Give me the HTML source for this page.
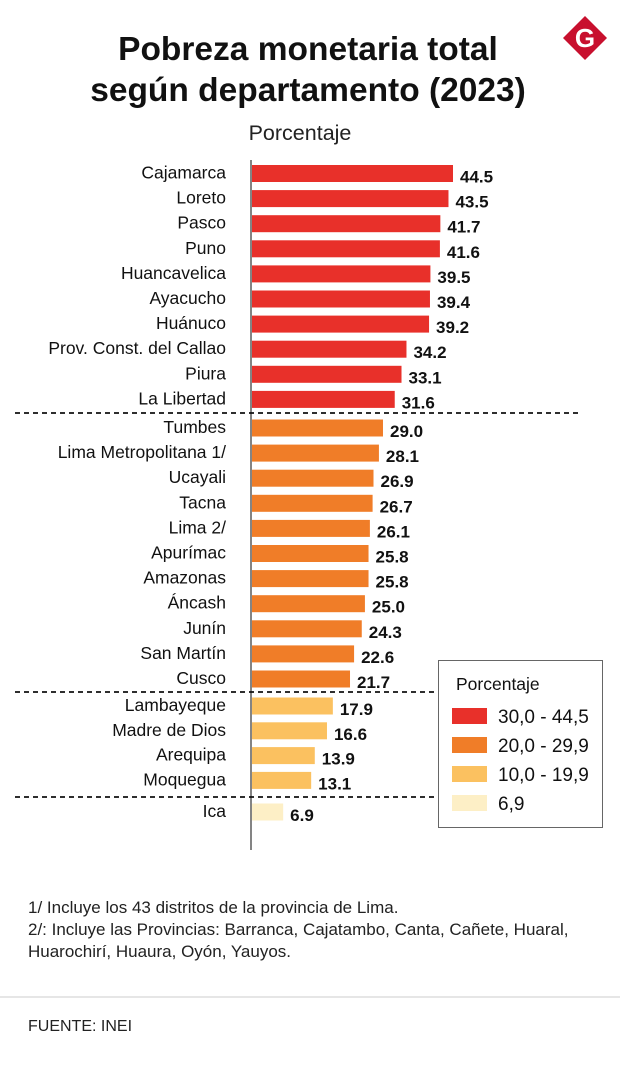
<!DOCTYPE html>
<html><head><meta charset="utf-8">
<style>
body{margin:0;background:#fff;width:620px;height:1064px;overflow:hidden;font-family:"Liberation Sans",sans-serif;}
svg text{font-family:"Liberation Sans",sans-serif;}
</style></head>
<body>
<svg id="chart" width="620" height="1064" xmlns="http://www.w3.org/2000/svg">
<text x="308" y="60" text-anchor="middle" font-size="33.5" font-weight="bold" fill="#111">Pobreza monetaria total</text>
<text x="308" y="101" text-anchor="middle" font-size="33.5" font-weight="bold" fill="#111">según departamento (2023)</text>
<g>
<polygon points="585,16 607,38 585,60 563,38" fill="#c8102e"/>
<circle cx="585" cy="38" r="11" fill="none" stroke="#fff" stroke-width="0"/>
<text x="585" y="47" text-anchor="middle" font-size="26" font-weight="bold" fill="#fff">G</text>
</g>
<text x="300" y="140" text-anchor="middle" font-size="21.5" fill="#222">Porcentaje</text>
<line x1="251" y1="160" x2="251" y2="850" stroke="#333" stroke-width="1.2"/>
<line x1="15" y1="413" x2="582" y2="413" stroke="#111" stroke-width="1.8" stroke-dasharray="5,4"/>
<line x1="15" y1="692" x2="440" y2="692" stroke="#111" stroke-width="1.8" stroke-dasharray="5,4"/>
<line x1="15" y1="797" x2="440" y2="797" stroke="#111" stroke-width="1.8" stroke-dasharray="5,4"/>
<g id="bars"></g>
<g>
<rect x="438.5" y="660.5" width="164" height="167" fill="#fff" stroke="#666" stroke-width="1"/>
<text x="456" y="690" font-size="17.5" fill="#111">Porcentaje</text>
<rect x="452" y="708" width="35" height="16" fill="#e8302a"/>
<text x="498" y="723" font-size="19" fill="#111">30,0 - 44,5</text>
<rect x="452" y="737" width="35" height="16" fill="#f07d28"/>
<text x="498" y="752" font-size="19" fill="#111">20,0 - 29,9</text>
<rect x="452" y="766" width="35" height="16" fill="#fbc160"/>
<text x="498" y="781" font-size="19" fill="#111">10,0 - 19,9</text>
<rect x="452" y="795" width="35" height="16" fill="#fdefc6"/>
<text x="498" y="810" font-size="19" fill="#111">6,9</text>
</g>
<text x="28" y="913" font-size="17" fill="#222">1/ Incluye los 43 distritos de la provincia de Lima.</text>
<text x="28" y="935" font-size="17" fill="#222">2/: Incluye las Provincias: Barranca, Cajatambo, Canta, Cañete, Huaral,</text>
<text x="28" y="957" font-size="17" fill="#222">Huarochirí, Huaura, Oyón, Yauyos.</text>
<line x1="0" y1="997" x2="620" y2="997" stroke="#ccc" stroke-width="1"/>
<text x="28" y="1031" font-size="16" fill="#222">FUENTE: INEI</text>
</svg>
<script>
const categories=["Cajamarca","Loreto","Pasco","Puno","Huancavelica","Ayacucho","Huánuco","Prov. Const. del Callao","Piura","La Libertad","Tumbes","Lima Metropolitana 1/","Ucayali","Tacna","Lima 2/","Apurímac","Amazonas","Áncash","Junín","San Martín","Cusco","Lambayeque","Madre de Dios","Arequipa","Moquegua","Ica"];
const values=[44.5,43.5,41.7,41.6,39.5,39.4,39.2,34.2,33.1,31.6,29.0,28.1,26.9,26.7,26.1,25.8,25.8,25.0,24.3,22.6,21.7,17.9,16.6,13.9,13.1,6.9];
const labels=["44.5","43.5","41.7","41.6","39.5","39.4","39.2","34.2","33.1","31.6","29.0","28.1","26.9","26.7","26.1","25.8","25.8","25.0","24.3","22.6","21.7","17.9","16.6","13.9","13.1","6.9"];
const x0=252, pxPer=201/44.5;
function xScale(v){return x0+v*pxPer;}
function color(v){return v>=30?"#e8302a":v>=20?"#f07d28":v>=10?"#fbc160":"#fdefc6";}
function yCenter(i){
  if(i<=9) return 173.5+25.1*i;
  if(i<=20) return 428+25.1*(i-10);
  if(i<=24) return 706+24.8*(i-21);
  return 812+25*(i-25);
}
const g=document.getElementById('bars');
const NS="http://www.w3.org/2000/svg";
categories.forEach((c,i)=>{
  const v=values[i], yc=yCenter(i);
  const r=document.createElementNS(NS,'rect');
  r.setAttribute('x',x0);r.setAttribute('y',yc-8.5);
  r.setAttribute('width',xScale(v)-x0);r.setAttribute('height',17);
  r.setAttribute('fill',color(v));
  
  
  g.appendChild(r);
  const t=document.createElementNS(NS,'text');
  t.setAttribute('x',226);t.setAttribute('y',yc+5);
  t.setAttribute('text-anchor','end');t.setAttribute('font-size','17.5');t.setAttribute('fill','#111');
  t.textContent=c;
  
  
  g.appendChild(t);
  const vt=document.createElementNS(NS,'text');
  vt.setAttribute('x',xScale(v)+7);vt.setAttribute('y',yc+9);
  vt.setAttribute('font-size','17');vt.setAttribute('font-weight','bold');vt.setAttribute('fill','#111');
  vt.textContent=labels[i];
  
  
  g.appendChild(vt);
});
</script>
</body></html>
